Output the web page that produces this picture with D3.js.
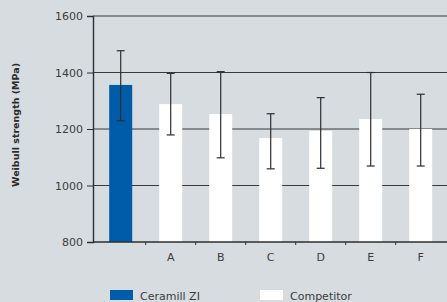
<!DOCTYPE html>
<html>
<head>
<meta charset="utf-8">
<script src="https://cdn.jsdelivr.net/npm/d3@7"></script>
<style>
  body { margin: 0; background: #d6dce0; }
  svg { display: block; }
</style>
</head>
<body>
<div id="chart"></div>
<script>
// data
var categories = ["", "A", "B", "C", "D", "E", "F"];
var values = [1356, 1288, 1253, 1168, 1193, 1235, 1200];
var errLow = [1229, 1179, 1098, 1059, 1061, 1069, 1069];
var errHigh = [1477, 1397, 1403, 1254, 1311, 1400, 1323];
var yTicks = [800, 1000, 1200, 1400, 1600];
var seriesNames = ["Ceramill ZI", "Competitor"];

var W = 447, H = 302;
var margin = {top: 16, right: 0, bottom: 60, left: 93};

var svg = d3.select("#chart").append("svg")
  .attr("width", W)
  .attr("height", H);

var x = d3.scaleBand()
  .domain(d3.range(categories.length))
  .range([95.7, 445.7])
  .paddingInner(0.54)
  .paddingOuter(0.27);

var y = d3.scaleLinear()
  .domain([800, 1600])
  .range([242, 16]);

var color = d3.scaleOrdinal()
  .domain(seriesNames)
  .range(["#005ca8", "#ffffff"]);

// gridlines
svg.append("g")
  .selectAll("line")
  .data(yTicks.slice(1))
  .enter().append("line")
  .attr("x1", margin.left)
  .attr("x2", W)
  .attr("y1", d => y(d))
  .attr("y2", d => y(d))
  .attr("stroke", "#3a3a3a")
  .attr("stroke-width", 1);

// bars
svg.append("g")
  .selectAll("rect")
  .data(values)
  .enter().append("rect")
  .attr("x", (d, i) => x(i))
  .attr("width", x.bandwidth())
  .attr("y", d => y(d))
  .attr("height", d => y(800) - y(d))
  .attr("fill", (d, i) => color(i === 0 ? seriesNames[0] : seriesNames[1]));

// error bars
var eb = svg.append("g")
  .attr("stroke", "#2e2e2e")
  .attr("stroke-width", 1.2);
var capW = 4;
values.forEach(function (v, i) {
  var cx = x(i) + x.bandwidth() / 2;
  eb.append("line").attr("x1", cx).attr("x2", cx)
    .attr("y1", y(errLow[i])).attr("y2", y(errHigh[i]));
  eb.append("line").attr("x1", cx - capW).attr("x2", cx + capW)
    .attr("y1", y(errLow[i])).attr("y2", y(errLow[i]));
  eb.append("line").attr("x1", cx - capW).attr("x2", cx + capW)
    .attr("y1", y(errHigh[i])).attr("y2", y(errHigh[i]));
});

// y axis
var yAxis = svg.append("g")
  .attr("transform", "translate(" + margin.left + ",0)")
  .call(d3.axisLeft(y).tickValues(yTicks).tickSize(6).tickPadding(4).tickFormat(d3.format("d")));
yAxis.select(".domain").attr("stroke", "#2e2e2e").attr("stroke-width", 1.4);
yAxis.selectAll(".tick line").attr("stroke", "#2e2e2e");
yAxis.selectAll("text")
  .attr("fill", "#3c3c3c")
  .style("font-family", "DejaVu Sans, sans-serif")
  .style("font-size", "11px");

// x axis
var xBase = svg.append("g").attr("transform", "translate(0," + y(800) + ")");
xBase.append("line")
  .attr("x1", margin.left).attr("x2", W)
  .attr("stroke", "#2e2e2e").attr("stroke-width", 1.6);
var step = x.step();
xBase.selectAll(".xt")
  .data(d3.range(1, categories.length))
  .enter().append("line")
  .attr("x1", d => x(d) - (step - x.bandwidth()) / 2)
  .attr("x2", d => x(d) - (step - x.bandwidth()) / 2)
  .attr("y1", 0).attr("y2", 3)
  .attr("stroke", "#2e2e2e");
xBase.selectAll(".xl")
  .data(categories)
  .enter().append("text")
  .attr("x", (d, i) => x(i) + x.bandwidth() / 2)
  .attr("y", 19)
  .attr("text-anchor", "middle")
  .attr("fill", "#3c3c3c")
  .style("font-family", "DejaVu Sans, sans-serif")
  .style("font-size", "11px")
  .text(d => d);

// y label
svg.append("text")
  .attr("transform", "translate(19,125) rotate(-90)")
  .attr("text-anchor", "middle")
  .attr("fill", "#2a2a2a")
  .style("font-family", "DejaVu Sans, sans-serif")
  .style("font-weight", "bold")
  .style("font-size", "9.5px")
  .text("Weibull strength (MPa)");

// legend
var legendX = [110, 260];
var legend = svg.selectAll(".legend")
  .data(seriesNames)
  .enter().append("g")
  .attr("transform", (d, i) => "translate(" + legendX[i] + ",290)");
legend.append("rect")
  .attr("width", 23)
  .attr("height", 10)
  .attr("fill", color);
legend.append("text")
  .attr("x", 30)
  .attr("y", 10)
  .attr("fill", "#3c3c3c")
  .style("font-family", "DejaVu Sans, sans-serif")
  .style("font-size", "11px")
  .text(d => d);
</script>
</body>
</html>
